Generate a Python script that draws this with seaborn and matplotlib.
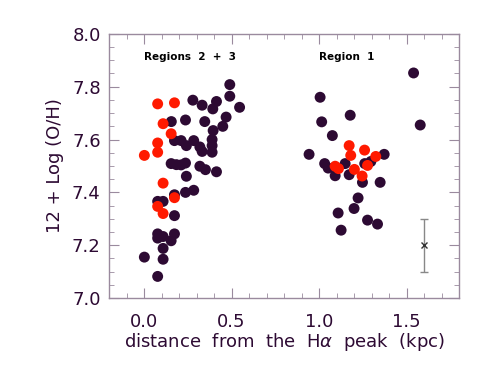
import numpy as np
import pandas as pd
import matplotlib
matplotlib.use('Agg')
import matplotlib.pyplot as plt
from matplotlib.ticker import MultipleLocator
import seaborn as sns

# dark points: distance (kpc) and 12+log(O/H)
dist_dark = [0.490, 0.490, 0.546, 0.279, 0.332, 0.414, 0.393, 0.469, 0.450,
             0.156, 0.237, 0.347, 0.395, 0.174, 0.212, 0.242, 0.284, 0.319,
             0.332, 0.389, 0.389, 0.389, 0.155, 0.185, 0.212, 0.237, 0.242,
             0.319, 0.351, 0.414, 0.237, 0.284, 0.174, 0.078, 0.109, 0.174,
             0.078, 0.109, 0.078, 0.174, 0.155, 0.109, 0.002, 0.109, 0.078,
             1.540, 1.006, 1.015, 1.178, 1.578, 1.076, 0.943, 1.372, 1.032,
             1.052, 1.092, 1.149, 1.172, 1.261, 1.296, 1.248, 1.349, 1.223,
             1.200, 1.109, 1.277, 1.334, 1.126]
oh_dark = [7.808, 7.764, 7.722, 7.749, 7.730, 7.744, 7.716, 7.685, 7.650,
           7.668, 7.674, 7.668, 7.634, 7.596, 7.596, 7.577, 7.596, 7.572,
           7.555, 7.600, 7.577, 7.552, 7.509, 7.505, 7.504, 7.511, 7.461,
           7.499, 7.486, 7.478, 7.400, 7.408, 7.391, 7.366, 7.366, 7.312,
           7.243, 7.233, 7.227, 7.243, 7.217, 7.188, 7.155, 7.147, 7.082,
           7.852, 7.760, 7.667, 7.692, 7.655, 7.615, 7.544, 7.544, 7.509,
           7.492, 7.463, 7.509, 7.467, 7.509, 7.517, 7.438, 7.438, 7.379,
           7.339, 7.322, 7.295, 7.280, 7.257]

# red points
dist_red = [0.078, 0.174, 0.109, 0.155, 0.078, 0.078, 0.002, 0.109, 0.174,
            0.078, 0.109,
            1.172, 1.260, 1.181, 1.324, 1.092, 1.111, 1.277, 1.202, 1.246]
oh_red = [7.735, 7.739, 7.660, 7.622, 7.587, 7.552, 7.540, 7.435, 7.380,
          7.347, 7.320,
          7.577, 7.560, 7.540, 7.536, 7.499, 7.490, 7.502, 7.487, 7.462]

# typical error bar
err_x = [1.60]
err_y = [7.20]
err_size = [0.10]

dark = '#2d0a33'
red = '#ff1a00'
axcol = '#9a8a9e'

df = pd.DataFrame({
    'dist': dist_dark + dist_red,
    'oh': oh_dark + oh_red,
    'group': ['dark'] * len(dist_dark) + ['red'] * len(dist_red),
})

sns.set_style('ticks')
plt.rcParams['font.family'] = ['DejaVu Sans']

fig = plt.figure(figsize=(4.91, 3.68), dpi=100)
ax = fig.add_axes([0.222, 0.190, 0.713, 0.718])

sns.scatterplot(data=df, x='dist', y='oh', hue='group',
                palette={'dark': dark, 'red': red}, s=62, linewidth=0,
                legend=False, ax=ax)

ax.errorbar(err_x, err_y, yerr=err_size, fmt='x', color='#888888',
            ecolor='#888888', capsize=3, elinewidth=1, markersize=4,
            mec='#333333')

ax.set_xlim(-0.2, 1.8)
ax.set_ylim(7.0, 8.0)
ax.xaxis.set_major_locator(MultipleLocator(0.5))
ax.xaxis.set_minor_locator(MultipleLocator(0.1))
ax.yaxis.set_major_locator(MultipleLocator(0.2))
ax.yaxis.set_minor_locator(MultipleLocator(0.05))
ax.tick_params(which='both', direction='in', top=True, right=True,
               color=axcol, labelcolor=dark, labelsize=13)
ax.tick_params(which='major', length=7)
ax.tick_params(which='minor', length=3.5)
ax.tick_params(axis='x', pad=11)
ax.tick_params(axis='y', pad=6)
for sp in ax.spines.values():
    sp.set_visible(True)
    sp.set_color(axcol)
    sp.set_linewidth(1)

ax.set_xlabel(r'distance  from  the  H$\alpha$  peak  (kpc)', fontsize=13,
              color=dark, labelpad=0)
ax.set_ylabel('12 + Log (O/H)', fontsize=13, color=dark, labelpad=6)

ax.text(0.0, 7.913, 'Regions  2  +  3', fontsize=7.5, fontweight='bold',
        color='black', va='center', ha='left')
ax.text(1.0, 7.913, 'Region  1', fontsize=7.5, fontweight='bold',
        color='black', va='center', ha='left')

fig.savefig('out.png', dpi=100)
